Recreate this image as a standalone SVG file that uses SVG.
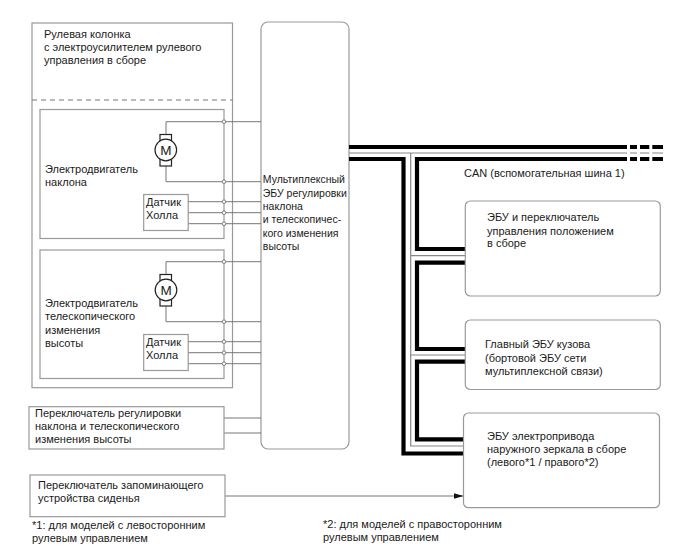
<svg xmlns="http://www.w3.org/2000/svg" width="688" height="560" viewBox="0 0 688 560">
<style>
text{font-family:"Liberation Sans",Arial,sans-serif;font-size:11px;fill:#1a1a1a}
.b{fill:#fff;stroke:#999;stroke-width:1.2}
.w{fill:none;stroke:#777;stroke-width:1}
.k{fill:none;stroke:#000;stroke-width:4.200}
.t{fill:none;stroke:#888;stroke-width:1.200}
.d{fill:#fff;stroke:#666;stroke-width:.8}
.m{fill:#fff;stroke:#222;stroke-width:1.200}
.mt{font-size:13.500px}
.x{font-size:10.500px}
</style>
<defs><marker id="a" markerWidth="10" markerHeight="6" refX="9.500" refY="3" orient="auto" markerUnits="userSpaceOnUse"><path d="M0 0L10 3L0 6z" fill="#111"/></marker></defs>
<g id="steering-column"><rect class="b" x="32" y="23" width="200.500" height="364.700"/><path d="M32 100H232.500" fill="none" stroke="#777" stroke-dasharray="5 4"/><text x="44" y="37.500">Рулевая колонка</text><text x="44" y="50.500">с электроусилителем рулевого</text><text x="44" y="63.500">управления в сборе</text></g>
<g id="tilt-motor"><rect class="b" x="40" y="109.500" width="184" height="129"/><text x="45" y="173">Электродвигатель</text><text x="45" y="186">наклона</text></g>
<g id="telescopic-motor"><rect class="b" x="40" y="250" width="184" height="128.500"/><text x="45" y="307">Электродвигатель</text><text x="45" y="320">телескопического</text><text x="45" y="334">изменения</text><text x="45" y="347">высоты</text></g>
<g id="ecu-mux"><rect class="b" x="261" y="22" width="88" height="427" rx="7"/><text class="x" x="262.800" y="183">Мультиплексный</text><text class="x" x="262.800" y="196.500">ЭБУ регулировки</text><text class="x" x="262.800" y="210">наклона</text><text class="x" x="262.800" y="223">и телескопичес-</text><text class="x" x="262.800" y="236.500">кого изменения</text><text class="x" x="262.800" y="250">высоты</text></g>
<g id="connectors">
<path class="w" d="M261 121.700H166V134M166 166V181.700H261M188 201.700H261M188 212.700H261M188 223.700H261"/>
<path class="w" d="M261 261.700H166V274M166 306V321.700H261M188 341.700H261M188 352.700H261M188 363.700H261"/>
<path class="w" d="M224 418H261M224 433H261"/>
<path class="w" d="M225 496H463" marker-end="url(#a)"/>
<path class="k" d="M349 147H663M349 159H403.500V453.500H463"/>
<path class="k" d="M465 249H417V159H663M465 262.700H417V349H465M465 361.700H417V439.300H463"/>
<path class="t" d="M349 153H663M410.700 153V446H463M410.700 255.700H465M410.700 355H465"/>
<path d="M628.500 143V164M638.500 143V164M650.800 143V164" fill="none" stroke="#fff" stroke-width="3"/>
</g>
<g id="tilt-motor-symbol"><rect class="m" x="160" y="134.500" width="11.500" height="31.500"/><circle class="m" cx="165.800" cy="150" r="10.800"/><text class="mt" x="165.800" y="155" text-anchor="middle">M</text></g>
<g id="telescopic-motor-symbol"><rect class="m" x="160" y="274.500" width="11.500" height="31.500"/><circle class="m" cx="166" cy="290" r="10.800"/><text class="mt" x="166" y="295" text-anchor="middle">M</text></g>
<g id="hall-1"><rect class="b" x="143.700" y="194.500" width="44.500" height="36"/><text x="146" y="206">Датчик</text><text x="146" y="219">Холла</text></g>
<g id="hall-2"><rect class="b" x="143.700" y="334.500" width="44.500" height="36"/><text x="146" y="346">Датчик</text><text x="146" y="359">Холла</text></g>
<g id="junctions"><circle class="d" cx="224" cy="121.700" r="1.800"/><circle class="d" cx="224" cy="181.700" r="1.800"/><circle class="d" cx="224" cy="201.700" r="1.800"/><circle class="d" cx="224" cy="212.700" r="1.800"/><circle class="d" cx="224" cy="223.700" r="1.800"/><circle class="d" cx="224" cy="261.700" r="1.800"/><circle class="d" cx="224" cy="321.700" r="1.800"/><circle class="d" cx="224" cy="341.700" r="1.800"/><circle class="d" cx="224" cy="352.700" r="1.800"/><circle class="d" cx="224" cy="363.700" r="1.800"/></g>
<g id="tilt-switch"><rect class="b" x="29" y="406.700" width="195" height="42.300"/><text x="35" y="416.500">Переключатель регулировки</text><text x="35" y="429.500">наклона и телескопического</text><text x="35" y="443">изменения высоты</text></g>
<g id="seat-switch"><rect class="b" x="30" y="475" width="195" height="41.700"/><text x="38" y="489">Переключатель запоминающего</text><text x="38" y="502">устройства сиденья</text></g>
<text x="464" y="176.500" id="can">CAN (вспомогательная шина 1)</text>
<g id="ecu-position"><rect class="b" x="465.300" y="201" width="195" height="95" rx="5"/><text x="487" y="221">ЭБУ и переключатель</text><text x="487" y="234.500">управления положением</text><text x="487" y="247">в сборе</text></g>
<g id="body-ecu"><rect class="b" x="465.300" y="320" width="195" height="69.500" rx="5"/><text x="485" y="348">Главный ЭБУ кузова</text><text x="485" y="361.500">(бортовой ЭБУ сети</text><text x="485" y="375">мультиплексной связи)</text></g>
<g id="mirror-ecu"><rect class="b" x="463.500" y="413" width="196" height="94.700" rx="5"/><text x="487" y="440">ЭБУ электропривода</text><text x="487" y="453.300">наружного зеркала в сборе</text><text x="487" y="466">(левого*1 / правого*2)</text></g>
<g id="notes"><text x="32" y="528.500">*1: для моделей с левосторонним</text><text x="32" y="542">рулевым управлением</text><text x="323" y="528">*2: для моделей с правосторонним</text><text x="323" y="541">рулевым управлением</text></g>
</svg>
